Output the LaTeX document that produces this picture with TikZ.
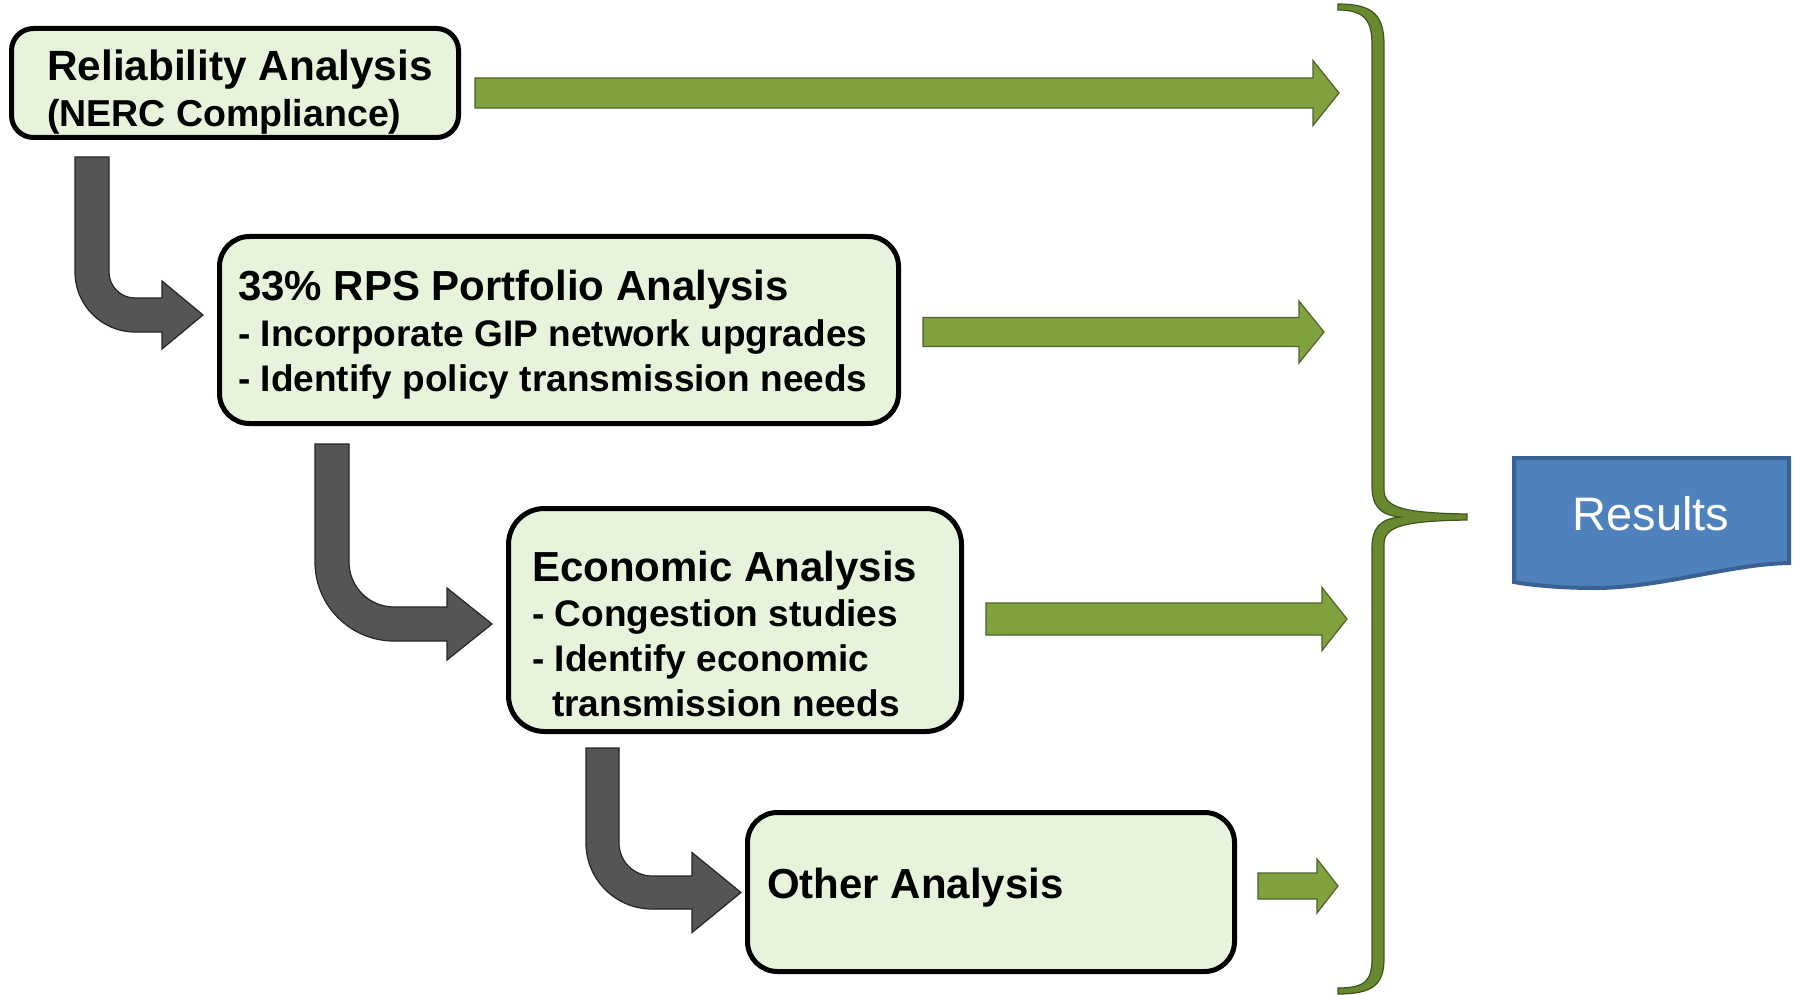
\documentclass[tikz,border=0pt]{standalone}
\usepackage{fontspec}
\setmainfont{Liberation Sans}
\definecolor{boxfill}{HTML}{E7F3DB}
\definecolor{grnfill}{HTML}{7FA23F}
\definecolor{grnline}{HTML}{4F6228}
\definecolor{grayfill}{HTML}{555555}
\definecolor{grayline}{HTML}{262626}
\definecolor{bracefill}{HTML}{68892F}
\definecolor{braceline}{HTML}{3F5520}
\definecolor{resfill}{HTML}{4F81BD}
\definecolor{resline}{HTML}{3A6194}
\newcommand\grnarrow[6]{\draw[grnarr] (#1,#4-#5) -- (#2,#4-#5) -- (#2,#4-#6) -- (#3,#4) -- (#2,#4+#6) -- (#2,#4+#5) -- (#1,#4+#5) -- cycle;}
\newcommand\bentarrow[9]{% #1 top y, #2 cx, #3 cy, #4 r, #5 t, #6 head base x, #7 head half, #8 tip x, #9 unused
  \pgfmathsetmacro\bi{#2-#4}\pgfmathsetmacro\bo{#2-#4-#5}%
  \pgfmathsetmacro\hy{#3+#4+#5/2}\pgfmathsetmacro\R{#4+#5}%
  \draw[grayarr] (\bo,#1) -- (\bi,#1) -- (\bi,#3)
    .. controls (\bi,#3+0.552*#4) and (#2-0.552*#4,#3+#4) .. (#2,#3+#4)
    -- (#6,#3+#4) -- (#6,\hy-#7) -- (#8,\hy) -- (#6,\hy+#7) -- (#6,#3+\R)
    -- (#2,#3+\R) .. controls (#2-0.552*\R,#3+\R) and (\bo,#3+0.552*\R) .. (\bo,#3) -- cycle;}
\tikzset{
  box/.style={draw=black, line width=5pt, fill=boxfill, rounded corners=24pt, inner sep=0pt},
  title/.style={anchor=base west, inner sep=0pt, font=\bfseries\fontsize{42}{50}\selectfont},
  sub/.style={anchor=base west, inner sep=0pt, font=\bfseries\fontsize{37}{45}\selectfont},
  grnarr/.style={fill=grnfill, draw=grnline, line width=1.2pt},
  grayarr/.style={fill=grayfill, draw=grayline, line width=1.2pt},
}
\begin{document}
\begin{tikzpicture}[x=1pt,y=-1pt]
\useasboundingbox[fill=white] (0,0) rectangle (1794,995);
% boxes
\node[box, minimum width=447pt, minimum height=109pt, rounded corners=22pt] (b1) at (235,83) {};
\node[box, minimum width=679pt, minimum height=187pt, rounded corners=30pt] (b2) at (559,330) {};
\node[box, minimum width=453pt, minimum height=223pt, rounded corners=36pt] (b3) at (735,620) {};
\node[box, minimum width=487pt, minimum height=159pt, rounded corners=30pt] (b4) at (991,892) {};
% texts
\node[title, font=\bfseries\fontsize{42.3}{50}\selectfont] (t1a) at (47,80.5) {Reliability Analysis};
\node[sub, font=\bfseries\fontsize{37.5}{45}\selectfont] (t1b) at (47,126.5) {(NERC Compliance)};
\node[title] (t2a) at (238,300.5) {33\% RPS Portfolio Analysis};
\node[sub] (t2b) at (238,346) {- Incorporate GIP network upgrades};
\node[sub] (t2c) at (238,391) {- Identify policy transmission needs};
\node[title] (t3a) at (532,581) {Economic Analysis};
\node[sub] (t3b) at (532,626.5) {- Congestion studies};
\node[sub] (t3c) at (532,671.5) {- Identify economic};
\node[sub] (t3d) at (552,716.5) {transmission needs};
\node[title] (t4a) at (767,898) {Other Analysis};
% gray bent arrows
\bentarrow{157}{135}{272}{26}{34}{162}{34}{203}{}
\bentarrow{444}{394}{562}{45}{34}{447}{36}{492}{}
\bentarrow{748}{652}{843}{33}{33}{692}{40}{741}{}
% green arrows
\grnarrow{475}{1313}{1339}{93}{15}{32.5}
\grnarrow{923}{1299}{1324}{332}{14.5}{31}
\grnarrow{986}{1322}{1347}{619}{16}{31.5}
\grnarrow{1258}{1317}{1338}{886}{13}{27}
% brace
\draw[fill=bracefill, draw=braceline, line width=1.2pt]
  (1338,4) .. controls (1374,4) and (1384,16) .. (1384,45) -- (1384,490)
  .. controls (1384,508) and (1405,513) .. (1467,514) -- (1467,520)
  .. controls (1405,521) and (1384,526) .. (1384,544) -- (1384,958)
  .. controls (1384,984) and (1374,994) .. (1338,994) -- (1338,988)
  .. controls (1366,988) and (1372,980) .. (1372,958) -- (1372,548)
  .. controls (1372,528) and (1380,519) .. (1400,517)
  .. controls (1380,515) and (1372,506) .. (1372,486) -- (1372,45)
  .. controls (1372,22) and (1366,10) .. (1338,10) -- cycle;
% results
\draw[fill=resfill, draw=resline, line width=4pt] (1514,458) -- (1789,458) -- (1789,563)
  .. controls (1730,564) and (1660,588) .. (1595,588)
  .. controls (1560,588) and (1530,585) .. (1514,582) -- cycle;
\node[anchor=base, inner sep=0pt, text=white, font=\fontsize{47}{55}\selectfont] (res) at (1651,530) {Results};
\end{tikzpicture}
\end{document}
